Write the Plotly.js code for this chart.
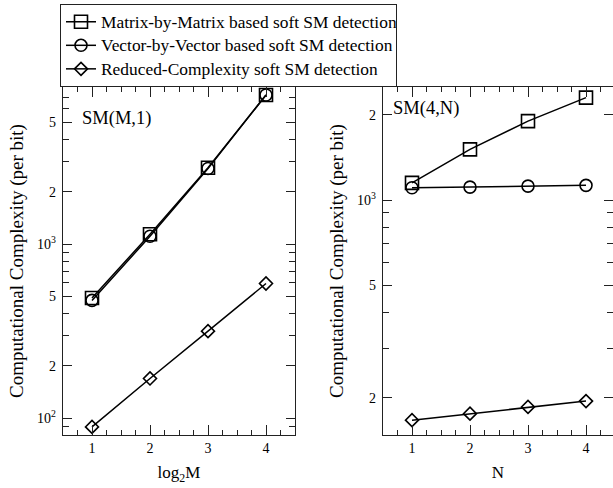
<!DOCTYPE html>
<html>
<head>
<meta charset="utf-8">
<script src="https://cdn.plot.ly/plotly-3.0.1.min.js"></script>
<style>html,body{margin:0;padding:0;background:#fff;}#chart{width:613px;height:488px;}</style>
</head>
<body>
<div id="chart"></div>
<script>
// ---- data ----
const log2M = [1, 2, 3, 4];
const smM1Matrix = [490, 1140, 2750, 7200];
const smM1Vector = [475, 1110, 2720, 7200];
const smM1Reduced = [89, 169, 316, 594];

const nValues = [1, 2, 3, 4];
const sm4NMatrix = [1150, 1510, 1900, 2300];
const sm4NVector = [1105, 1111, 1120, 1127];
const sm4NReduced = [167, 176, 186, 195];

const seriesNames = [
  'Matrix-by-Matrix based soft SM detection',
  'Vector-by-Vector based soft SM detection',
  'Reduced-Complexity soft SM detection'
];
const xTickVals = [1, 2, 3, 4];
const xTickText = ['1', '2', '3', '4'];
const leftYTickVals = [100, 200, 500, 1000, 2000, 5000];
const leftYTickText = ['10<sup>2</sup>', '2', '5', '10<sup>3</sup>', '2', '5'];
const leftYMinor = [90, 300, 400, 600, 700, 800, 900, 3000, 4000, 6000, 7000];
const rightYTickVals = [200, 500, 1000, 2000];
const rightYTickText = ['2', '5', '10<sup>3</sup>', '2'];
const rightYMinor = [300, 400, 600, 700, 800, 900];

// ---- styling ----
const FONT = '"Liberation Serif", serif';
const symbols = ['square-open', 'circle-open', 'diamond-open'];
const sizes = [13, 12, 10];

function mk(x, y, i, xa, ya, showleg) {
  return {
    x: x, y: y, type: 'scatter', mode: 'lines+markers',
    name: '<span style="font-size:17.4px">' + seriesNames[i] + '</span>', showlegend: showleg,
    xaxis: xa, yaxis: ya,
    line: {color: '#000', width: 1.5},
    marker: {symbol: symbols[i], size: sizes[i], color: '#000', line: {color: '#000', width: 1.6}}
  };
}

const data = [
  mk(log2M, smM1Matrix, 0, 'x', 'y', true),
  mk(log2M, smM1Vector, 1, 'x', 'y', true),
  mk(log2M, smM1Reduced, 2, 'x', 'y', true),
  mk(nValues, sm4NMatrix, 0, 'x2', 'y2', false),
  mk(nValues, sm4NVector, 1, 'x2', 'y2', false),
  mk(nValues, sm4NReduced, 2, 'x2', 'y2', false)
];

const W = 613, H = 488;
const axCommon = {
  showline: true, linecolor: '#222', linewidth: 1.2, mirror: 'ticks',
  ticks: 'inside', ticklen: 9, tickwidth: 1, tickcolor: '#222',
  showgrid: false, zeroline: false, automargin: false,
  tickfont: {family: FONT, size: 14, color: '#000'}
};
function xAxis(domain, range, title) {
  return Object.assign({}, axCommon, {
    domain: domain, range: range, tickmode: 'array', tickvals: xTickVals, ticktext: xTickText,
    ticklen: 10,
    minor: {tickmode: 'linear', tick0: 0, dtick: 0.25, ticks: 'inside', ticklen: 5, tickwidth: 1, tickcolor: '#222'},
    title: {text: title, font: {family: FONT, size: 17, color: '#000'}, standoff: 11}
  });
}
function yAxis(domain, range, tv, tt, minor, anchor, title) {
  return Object.assign({}, axCommon, {
    type: 'log', domain: domain, range: range, anchor: anchor,
    tickmode: 'array', tickvals: tv, ticktext: tt, ticklabelstandoff: 3,
    minor: {tickmode: 'array', tickvals: minor, ticks: 'inside', ticklen: 6, tickwidth: 1, tickcolor: '#222'},
    title: {text: title, font: {family: FONT, size: 19, color: '#000'}, standoff: 8}
  });
}
const yDom = [1 - 435 / H, 1 - 87 / H];
const layout = {
  width: W, height: H,
  margin: {l: 0, r: 0, t: 0, b: 0},
  paper_bgcolor: '#fff', plot_bgcolor: '#fff',
  font: {family: FONT, color: '#000'},
  xaxis: xAxis([63 / W, 295 / W], [0.5, 4.5], 'log<sub>2</sub>M'),
  yaxis: yAxis(yDom, [Math.log10(80), Math.log10(8000)], leftYTickVals, leftYTickText, leftYMinor, 'x', 'Computational Complexity (per bit)'),
  xaxis2: Object.assign(xAxis([383 / W, 1], [0.5, 4.5 - 2 / 58], 'N'), {anchor: 'y2'}),
  yaxis2: yAxis(yDom, [Math.log10(148), Math.log10(2507)], rightYTickVals, rightYTickText, rightYMinor, 'x2', 'Computational Complexity (per bit)'),
  showlegend: true,
  legend: {
    orientation: 'h',
    x: 60 / W, y: 1 - 4 / H, xanchor: 'left', yanchor: 'top',
    bgcolor: '#fff', bordercolor: '#222', borderwidth: 1,
    font: {family: FONT, size: 15.8, color: '#000'},
    entrywidth: 290, entrywidthmode: 'pixels',
    tracegroupgap: 0
  },
  annotations: [
    {text: 'SM(M,1)', xref: 'paper', yref: 'paper', x: 80 / W, y: 1 - 118 / H, xanchor: 'left', yanchor: 'middle', showarrow: false, font: {family: FONT, size: 18.5, color: '#000'}},
    {text: 'SM(4,N)', xref: 'paper', yref: 'paper', x: 391 / W, y: 1 - 108 / H, xanchor: 'left', yanchor: 'middle', showarrow: false, font: {family: FONT, size: 18.5, color: '#000'}}
  ]
};
Plotly.newPlot('chart', data, layout, {displayModeBar: false, staticPlot: true});
</script>
</body>
</html>
